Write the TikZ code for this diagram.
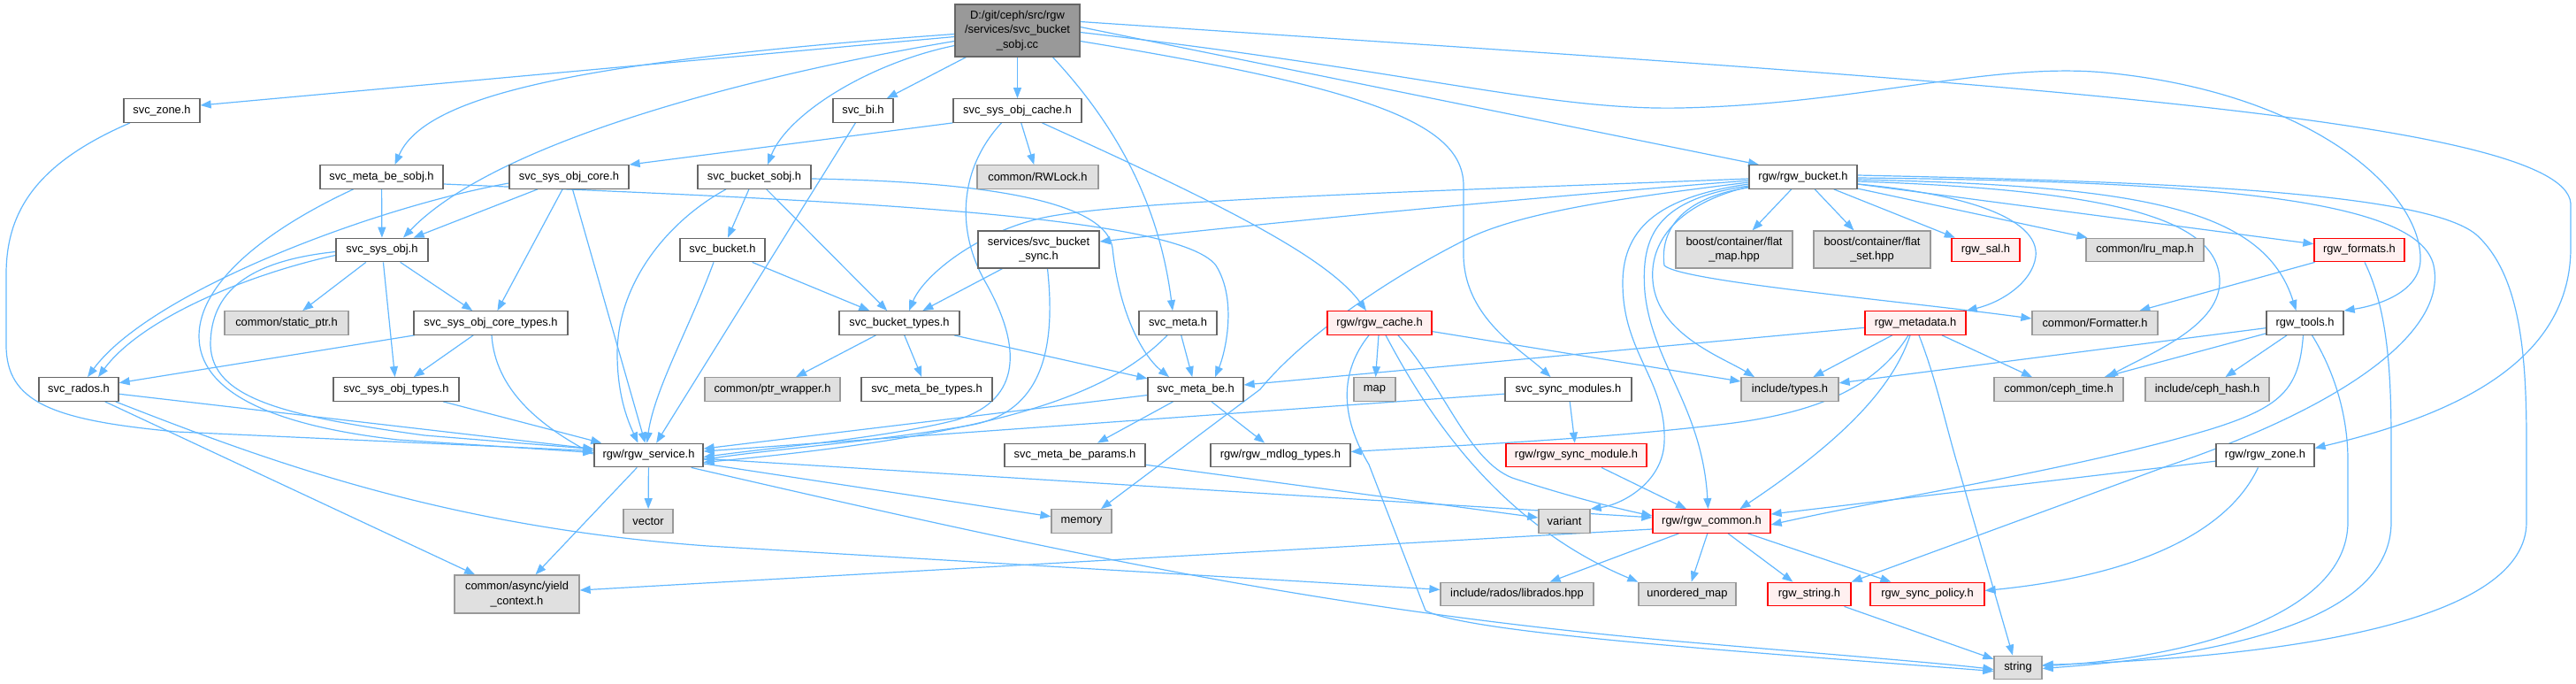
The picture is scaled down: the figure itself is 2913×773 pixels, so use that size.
\documentclass[tikz,border=0pt]{standalone}
\usepackage{fontspec}
\setmainfont{Liberation Sans}
\usetikzlibrary{arrows.meta}
\pgfdeclarelayer{background}
\pgfsetlayers{background,main}
\definecolor{edgec}{HTML}{63B8FF}
\definecolor{wborder}{HTML}{666666}
\definecolor{gborder}{HTML}{999999}
\definecolor{gfill}{HTML}{E0E0E0}
\definecolor{rborder}{HTML}{FF0000}
\definecolor{rfill}{HTML}{FFF0F0}
\definecolor{rootfill}{HTML}{999999}
\begin{document}
\begin{tikzpicture}[x=1pt,y=-1pt,
  font=\fontsize{12.9}{16.5}\selectfont,
  nb/.style={rectangle, inner sep=0pt, line width=1.3pt, align=center, minimum height=26.5pt},
  wn/.style={nb, draw=wborder, fill=white},
  gn/.style={nb, draw=gborder, fill=gfill},
  rn/.style={nb, draw=rborder, fill=rfill},
  rootn/.style={nb, draw=wborder, fill=rootfill},
  dep/.style={draw=edgec, line width=1.2pt, -{Triangle[length=12pt,width=9pt]}}]
\useasboundingbox (0,0) rectangle (2913,773);

% nodes
\node[rootn, minimum width=141pt, minimum height=59pt] (root) at (1150.5,34.5) {D:/git/ceph/src/rgw\\/services/svc\_bucket\\\_sobj.cc};
\node[wn, minimum width=86pt] (zone) at (183,125) {svc\_zone.h};
\node[wn, minimum width=68pt] (bi) at (976,125) {svc\_bi.h};
\node[wn, minimum width=145pt] (sysobjcache) at (1150.5,125) {svc\_sys\_obj\_cache.h};
\node[wn, minimum width=139pt] (metabesobj) at (431.5,200) {svc\_meta\_be\_sobj.h};
\node[wn, minimum width=135pt] (sysobjcore) at (643.5,200) {svc\_sys\_obj\_core.h};
\node[wn, minimum width=128pt] (bucketsobj) at (853,200) {svc\_bucket\_sobj.h};
\node[gn, minimum width=137pt] (rwlock) at (1173.5,200) {common/RWLock.h};
\node[wn, minimum width=122pt] (rgwbucket) at (2039,200) {rgw/rgw\_bucket.h};
\node[wn, minimum width=104pt] (sysobj) at (432,282.5) {svc\_sys\_obj.h};
\node[wn, minimum width=96pt] (bucket) at (817,282.5) {svc\_bucket.h};
\node[wn, minimum width=137pt, minimum height=42pt] (bucketsync) at (1174.5,282) {services/svc\_bucket\\\_sync.h};
\node[gn, minimum width=132pt, minimum height=42pt] (flatmap) at (1961,282) {boost/container/flat\\\_map.hpp};
\node[gn, minimum width=132pt, minimum height=42pt] (flatset) at (2117,282) {boost/container/flat\\\_set.hpp};
\node[rn, minimum width=77pt] (sal) at (2245.5,282.5) {rgw\_sal.h};
\node[gn, minimum width=133pt] (lru) at (2425.5,282.5) {common/lru\_map.h};
\node[rn, minimum width=102pt] (formats) at (2668,282.5) {rgw\_formats.h};
\node[gn, minimum width=140pt] (staticptr) at (324,365) {common/static\_ptr.h};
\node[wn, minimum width=174pt] (coretypes) at (555,365) {svc\_sys\_obj\_core\_types.h};
\node[wn, minimum width=136pt] (buckettypes) at (1017,365) {svc\_bucket\_types.h};
\node[wn, minimum width=88pt] (meta) at (1332,365) {svc\_meta.h};
\node[rn, minimum width=118pt] (cache) at (1560,365) {rgw/rgw\_cache.h};
\node[rn, minimum width=114pt] (metadata) at (2166,365) {rgw\_metadata.h};
\node[gn, minimum width=142pt] (formatter) at (2369,365) {common/Formatter.h};
\node[wn, minimum width=87pt] (tools) at (2606.5,365) {rgw\_tools.h};
\node[wn, minimum width=90pt] (rados) at (89,440) {svc\_rados.h};
\node[wn, minimum width=142pt] (sysobjtypes) at (448,440) {svc\_sys\_obj\_types.h};
\node[gn, minimum width=153pt] (ptrwrapper) at (873.5,440) {common/ptr\_wrapper.h};
\node[wn, minimum width=148pt] (metabetypes) at (1048,440) {svc\_meta\_be\_types.h};
\node[wn, minimum width=108pt] (metabe) at (1352,440) {svc\_meta\_be.h};
\node[gn, minimum width=47pt] (mapn) at (1554.5,440) {map};
\node[wn, minimum width=143pt] (syncmodules) at (1773.5,440) {svc\_sync\_modules.h};
\node[gn, minimum width=110pt] (typesn) at (2024,440) {include/types.h};
\node[gn, minimum width=146pt] (cephtime) at (2328,440) {common/ceph\_time.h};
\node[gn, minimum width=140pt] (cephhash) at (2496,440) {include/ceph\_hash.h};
\node[wn, minimum width=123pt] (service) at (733.5,514.5) {rgw/rgw\_service.h};
\node[wn, minimum width=159pt] (metabeparams) at (1215.5,514.5) {svc\_meta\_be\_params.h};
\node[wn, minimum width=158pt] (mdlog) at (1448,514.5) {rgw/rgw\_mdlog\_types.h};
\node[rn, minimum width=159pt] (syncmodule) at (1782.5,514.5) {rgw/rgw\_sync\_module.h};
\node[wn, minimum width=111pt] (rgwzone) at (2561.5,514.5) {rgw/rgw\_zone.h};
\node[gn, minimum width=56pt] (vecn) at (733,589) {vector};
\node[gn, minimum width=68pt] (memn) at (1223,589) {memory};
\node[gn, minimum width=58pt] (varn) at (1769,589) {variant};
\node[rn, minimum width=133pt] (commonn) at (1935.5,589) {rgw/rgw\_common.h};
\node[gn, minimum width=141pt, minimum height=43pt] (yield) at (584.5,671.5) {common/async/yield\\\_context.h};
\node[gn, minimum width=173pt] (librados) at (1715.5,671.5) {include/rados/librados.hpp};
\node[gn, minimum width=110pt] (unordered) at (1908,671.5) {unordered\_map};
\node[rn, minimum width=94pt] (rgwstring) at (2046,671.5) {rgw\_string.h};
\node[rn, minimum width=129pt] (syncpolicy) at (2179.5,671.5) {rgw\_sync\_policy.h};
\node[gn, minimum width=54pt] (strn) at (2282,754.5) {string};

\begin{pgfonlayer}{background}
% root
\draw[dep] ([yshift=-7pt]root.west) -- ([yshift=6pt]zone.east);
\draw[dep] ([yshift=-4pt]root.west) .. controls (640,70) and (480,110) .. ([xshift=15pt]metabesobj.north);
\draw[dep] ([yshift=-12pt]root.west) .. controls (850,85) and (560,160) .. ([xshift=24pt]sysobj.north);
\draw[dep] (root) -- (bi);
\draw[dep] (root) -- (sysobjcache);
\draw[dep] ([yshift=-17pt]root.west) .. controls (980,72) and (890,130) .. ([xshift=15pt]bucketsobj.north);
\draw[dep] ([xshift=40pt]root.south) .. controls (1270,150) and (1312,240) .. ([xshift=-6pt]meta.north);
\draw[dep] ([yshift=4pt]root.east) -- ([xshift=-50pt]rgwbucket.north);
\draw[dep] ([yshift=-12pt]root.east) .. controls (1550,100) and (1655,140) .. (1655,210) -- (1655,290) .. controls (1657,360) and (1720,395) .. ([xshift=-20pt]syncmodules.north);
\draw[dep] ([yshift=-2pt]root.east) .. controls (1600,80) and (1750,125) .. (1900,122) .. controls (2100,118) and (2250,70) .. (2380,82) .. controls (2620,105) and (2740,220) .. (2737,295) .. controls (2735,330) and (2690,345) .. (tools.north east);
\draw[dep] ([yshift=10pt]root.east) .. controls (2200,90) and (2900,130) .. (2907,230) -- (2907,280) .. controls (2907,420) and (2750,475) .. ([yshift=8pt]rgwzone.east);
% zone
\draw[dep] ([xshift=-36pt]zone.south) .. controls (40,185) and (7,240) .. (7,310) -- (7,390) .. controls (7,455) and (60,475) .. (200,488) -- ([yshift=5pt]service.west);
% meta_be_sobj
\draw[dep] (metabesobj) -- (sysobj);
\draw[dep] ([yshift=-8pt]metabesobj.east) .. controls (900,225) and (1330,240) .. (1375,300) .. controls (1400,340) and (1385,400) .. ([xshift=22pt]metabe.north);
\draw[dep] ([xshift=-32pt]metabesobj.south) .. controls (300,260) and (225,320) .. (225,380) .. controls (225,440) and (300,480) .. (450,497) -- ([yshift=3pt]service.west);
% sys_obj_core
\draw[dep] ([yshift=-7pt]sysobjcore.west) .. controls (420,235) and (170,330) .. ([xshift=10pt]rados.north);
\draw[dep] (sysobjcore) -- (sysobj);
\draw[dep] (sysobjcore) -- (coretypes);
\draw[dep] (sysobjcore) -- (service);
% sys_obj
\draw[dep] (sysobj) -- (staticptr);
\draw[dep] (sysobj) -- (sysobjtypes);
\draw[dep] (sysobj) -- (coretypes);
\draw[dep] ([yshift=-6pt]sysobj.west) .. controls (280,310) and (160,360) .. ([xshift=22pt]rados.north);
\draw[dep] ([yshift=-2pt]sysobj.west) .. controls (280,295) and (238,330) .. (238,390) .. controls (240,450) and (320,470) .. (480,492) -- ([yshift=7pt]service.west);
% core types
\draw[dep] (coretypes) -- (rados);
\draw[dep] (coretypes) -- (sysobjtypes);
\draw[dep] ([xshift=1pt]coretypes.south) .. controls (560,440) and (610,480) .. ([yshift=1pt]service.west);
% rados
\draw[dep] (rados) -- (service);
\draw[dep] (rados) -- (yield);
\draw[dep] ([xshift=-4pt]rados.south east) .. controls (300,520) and (500,595) .. (800,617) -- (librados);
\draw[dep] (sysobjtypes) -- (service);
\draw[dep] (bi) -- (service);
% sys_obj_cache
\draw[dep] (sysobjcache.south west) -- (sysobjcore.north east);
\draw[dep] (sysobjcache) -- (rwlock);
\draw[dep] ([xshift=-18pt]sysobjcache.south) .. controls (1085,190) and (1080,260) .. (1115,320) .. controls (1160,400) and (1150,455) .. (1080,475) .. controls (1000,495) and (880,505) .. ([yshift=-2pt]service.east);
\draw[dep] ([xshift=28pt]sysobjcache.south) .. controls (1380,230) and (1500,290) .. ([xshift=-15pt]cache.north);
% bucket_sobj
\draw[dep] (bucketsobj) -- (bucket);
\draw[dep] (bucketsobj) -- (buckettypes);
\draw[dep] ([xshift=-32pt]bucketsobj.south) .. controls (755,250) and (698,320) .. (698,400) .. controls (698,450) and (712,480) .. ([xshift=-12pt]service.north);
\draw[dep] ([yshift=-2pt]bucketsobj.east) .. controls (1100,205) and (1250,225) .. (1258,280) .. controls (1265,350) and (1290,400) .. ([xshift=-30pt]metabe.north);
% bucket
\draw[dep] (bucket) -- (buckettypes);
\draw[dep] ([xshift=-10pt]bucket.south) .. controls (780,370) and (740,440) .. ([xshift=-2pt]service.north);
% bucket_sync
\draw[dep] (bucketsync) -- (buckettypes);
\draw[dep] ([xshift=10pt]bucketsync.south) .. controls (1195,400) and (1175,465) .. (1100,480) .. controls (1000,498) and (870,508) .. ([yshift=-5pt]service.east);
% bucket_types
\draw[dep] (buckettypes) -- (ptrwrapper);
\draw[dep] (buckettypes) -- (metabetypes);
\draw[dep] (buckettypes) -- (metabe);
% meta
\draw[dep] (meta) -- (metabe);
\draw[dep] ([xshift=-12pt]meta.south) .. controls (1260,440) and (1150,490) .. ([yshift=-8pt]service.east);
% meta_be
\draw[dep] (metabe) -- (service);
\draw[dep] (metabe) -- (metabeparams);
\draw[dep] (metabe) -- (mdlog);
\draw[dep] (metabeparams) -- (varn);
% service
\draw[dep] (service) -- (vecn);
\draw[dep] (service) -- (memn);
\draw[dep] (service) -- (commonn);
\draw[dep] (service) -- (yield);
\draw[dep] ([xshift=-14pt]service.south east) .. controls (1200,625) and (1500,690) .. (1900,725) .. controls (2100,742) and (2200,750) .. ([yshift=-2pt]strn.west);
% cache
\draw[dep] (cache) -- (mapn);
\draw[dep] (cache) -- (typesn);
\draw[dep] ([xshift=7pt]cache.south) .. controls (1610,460) and (1690,590) .. (unordered.north west);
\draw[dep] ([xshift=21pt]cache.south) .. controls (1635,440) and (1660,520) .. (1710,540) .. controls (1770,560) and (1830,575) .. ([yshift=6pt]commonn.west);
\draw[dep] ([xshift=-12pt]cache.south) .. controls (1515,420) and (1515,470) .. (1548,525) -- (1612,690) .. controls (1660,715) and (1950,735) .. ([yshift=-4pt]strn.west);
% sync modules
\draw[dep] (syncmodules) -- (service);
\draw[dep] (syncmodules) -- (syncmodule);
\draw[dep] (syncmodule) -- (commonn);
% metadata
\draw[dep] (metadata) -- (metabe);
\draw[dep] (metadata) -- (typesn);
\draw[dep] (metadata) -- (cephtime);
\draw[dep] ([xshift=-8pt]metadata.south) .. controls (2120,440) and (2050,468) .. (1944,480) .. controls (1800,497) and (1620,505) .. ([yshift=4pt]mdlog.east);
\draw[dep] ([xshift=-6pt]metadata.south) .. controls (2140,440) and (2080,500) .. ([xshift=32pt]commonn.north);
\draw[dep] ([xshift=4pt]metadata.south) .. controls (2190,430) and (2200,480) .. (2215,530) -- ([xshift=-6pt]strn.north);
% formats
\draw[dep] (formats) -- (formatter);
\draw[dep] ([xshift=6pt]formats.south) .. controls (2700,350) and (2704,420) .. (2704,500) -- (2704,590) .. controls (2704,700) and (2520,740) .. ([yshift=-1pt]strn.east);
% tools
\draw[dep] (tools) -- (typesn);
\draw[dep] (tools) -- (cephtime);
\draw[dep] (tools) -- (cephhash);
\draw[dep] ([xshift=-2pt]tools.south) .. controls (2600,440) and (2580,460) .. (2500,485) .. controls (2350,530) and (2150,560) .. ([yshift=-4pt]commonn.east);
\draw[dep] ([xshift=8pt]tools.south) .. controls (2640,420) and (2655,470) .. (2655,520) -- (2655,590) .. controls (2655,700) and (2460,745) .. ([yshift=2pt]strn.east);
% rgw_zone
\draw[dep] (rgwzone) -- (commonn);
\draw[dep] ([xshift=-8pt]rgwzone.south) .. controls (2520,600) and (2420,650) .. ([yshift=4pt]syncpolicy.east);
% common
\draw[dep] ([yshift=-9pt]commonn.west) -- ([yshift=4.5pt]yield.east);
\draw[dep] (commonn) -- (librados);
\draw[dep] (commonn) -- (unordered);
\draw[dep] (commonn) -- (rgwstring);
\draw[dep] (commonn) -- (syncpolicy);
\draw[dep] (rgwstring) -- (strn);
% rgw_bucket
\draw[dep] (rgwbucket) -- (flatmap);
\draw[dep] (rgwbucket) -- (flatset);
\draw[dep] (rgwbucket) -- (sal);
\draw[dep] (rgwbucket) -- (lru);
\draw[dep] (rgwbucket) -- (formats);
\draw[dep] ([yshift=-2pt]rgwbucket.west) .. controls (1650,215) and (1300,225) .. (1190,244) .. controls (1110,258) and (1045,310) .. ([xshift=11pt]buckettypes.north);
\draw[dep] ([yshift=-4pt]rgwbucket.west) .. controls (1750,222) and (1500,245) .. ([yshift=9pt]bucketsync.east);
\draw[dep] ([yshift=-6pt]rgwbucket.west) .. controls (1850,222) and (1720,238) .. (1655,272) .. controls (1560,320) and (1470,385) .. (1425,440) -- ([xshift=22pt]memn.north);
\draw[dep] ([yshift=-8pt]rgwbucket.west) .. controls (1880,222) and (1835,255) .. (1835,320) .. controls (1835,400) and (1885,430) .. (1882,500) .. controls (1880,545) and (1835,570) .. (varn.north east);
\draw[dep] ([yshift=-10pt]rgwbucket.west) .. controls (1875,225) and (1855,265) .. (1860,330) .. controls (1868,410) and (1925,460) .. ([xshift=-4pt]commonn.north);
\draw[dep] ([yshift=-11pt]rgwbucket.west) .. controls (1890,232) and (1862,280) .. (1870,325) .. controls (1880,380) and (1950,405) .. ([xshift=-40pt]typesn.north);
\draw[dep] ([yshift=-12pt]rgwbucket.west) .. controls (1890,225) and (1878,270) .. (1882,300) .. controls (1900,318) and (2150,340) .. ([yshift=5pt]formatter.west);
\draw[dep] ([yshift=-8pt]rgwbucket.east) .. controls (2250,222) and (2306,255) .. (2302,290) .. controls (2298,320) and (2262,342) .. (metadata.north east);
\draw[dep] ([yshift=-5pt]rgwbucket.east) .. controls (2400,215) and (2512,250) .. (2510,320) .. controls (2508,370) and (2430,400) .. ([xshift=55pt]cephtime.north);
\draw[dep] ([yshift=-3pt]rgwbucket.east) .. controls (2420,210) and (2560,235) .. ([xshift=-10pt]tools.north);
\draw[dep] ([yshift=-1pt]rgwbucket.east) .. controls (2500,205) and (2735,225) .. (2752,300) .. controls (2768,375) and (2650,460) .. (2450,527) -- (rgwstring.north east);
\draw[dep] ([yshift=2pt]rgwbucket.east) .. controls (2420,205) and (2740,215) .. (2800,265) .. controls (2850,310) and (2857,400) .. (2857,500) -- (2857,590) .. controls (2857,700) and (2600,742) .. ([yshift=3pt]strn.east);
\end{pgfonlayer}
\end{tikzpicture}
\end{document}
